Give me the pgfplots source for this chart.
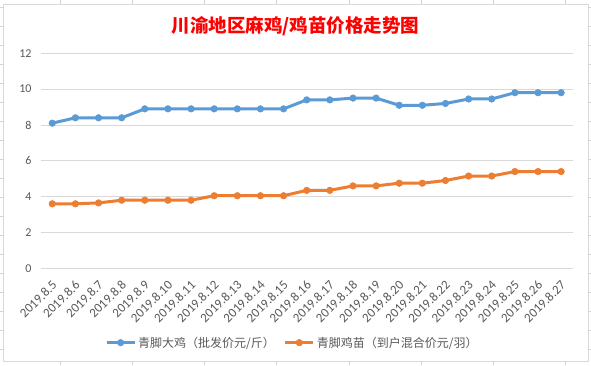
\documentclass[border=0pt]{standalone}
\usepackage{pgfplots}
\pgfplotsset{compat=1.18}
\usepackage{fontspec}
\setmainfont{Carlito}
\newfontfamily\cjk{Noto Sans CJK SC}
\definecolor{cblue}{HTML}{5B9BD5}
\definecolor{corange}{HTML}{ED7D31}
\definecolor{cgrid}{HTML}{D9D9D9}
\definecolor{cellc}{HTML}{D4D4D4}
\definecolor{ctext}{HTML}{595959}
\begin{document}
\begin{tikzpicture}
\useasboundingbox (0pt,0pt) rectangle (591pt,365pt);
\foreach \x in {60,132.3,204.5,276.7,348.9,421,493,565} {\draw[cellc, line width=0.75pt] (\x pt,0pt) -- (\x pt,365pt);}
\foreach \k in {0,...,19} {\pgfmathsetmacro\yy{365-(7+19.03*\k)}\draw[cellc, line width=0.75pt] (0pt,\yy pt) -- (591pt,\yy pt);}
\fill[white, draw=cgrid, line width=0.75pt] (3.3pt,3.3pt) rectangle (588pt,360.5pt);
\node[font=\cjk\bfseries\fontsize{18.5}{22}\selectfont, text=red] at (295.5pt,338.5pt) {川渝地区麻鸡/鸡苗价格走势图};
\begin{axis}[
  at={(40.7pt,96.7pt)}, anchor=south west, scale only axis,
  width=532pt, height=215pt,
  xmin=-0.5, xmax=22.5, ymin=0, ymax=12,
  ytick={0,2,...,12}, xtick={0,...,22},
  xticklabels={2019.8.5,2019.8.6,2019.8.7,2019.8.8,2019.8.9,2019.8.10,2019.8.11,2019.8.12,2019.8.13,2019.8.14,2019.8.15,2019.8.16,2019.8.17,2019.8.18,2019.8.19,2019.8.20,2019.8.21,2019.8.22,2019.8.23,2019.8.24,2019.8.25,2019.8.26,2019.8.27},
  axis line style={draw=none},
  major tick length=0pt,
  ymajorgrids, grid style={cgrid, line width=0.75pt},
  tick label style={text=ctext, font=\fontsize{12}{14}\selectfont},
  /pgf/number format/assume math mode=true,
  yticklabel style={inner sep=0pt, xshift=-9pt},
  xticklabel style={font=\fontsize{13}{15}\selectfont, xshift=2.3pt, yshift=-14.5pt, rotate=45, anchor=east, inner sep=0pt},
  clip=false,
  legend style={at={(0.473,-0.346)}, anchor=center, draw=none, fill=none,
    font=\cjk\fontsize{12}{14}\selectfont, text=ctext,
    /tikz/every even column/.append style={column sep=7pt}},
  legend columns=2,
  legend image code/.code={\draw[mark repeat=2,mark phase=2,#1] plot coordinates {(0pt,0pt) (14pt,0pt) (28pt,0pt)};},
]
\addplot[cblue, line width=3pt, mark=*, mark size=3.3pt, mark options={solid, line width=0.5pt, fill=cblue, draw=cblue}] coordinates {
(0,8.1) (1,8.4) (2,8.4) (3,8.4) (4,8.9) (5,8.9) (6,8.9) (7,8.9) (8,8.9) (9,8.9) (10,8.9)
(11,9.4) (12,9.4) (13,9.5) (14,9.5) (15,9.1) (16,9.1) (17,9.2) (18,9.45) (19,9.45) (20,9.8) (21,9.8) (22,9.8)};
\addlegendentry{青脚大鸡（批发价元/斤）}
\addplot[corange, line width=3pt, mark=*, mark size=3.3pt, mark options={solid, line width=0.5pt, fill=corange, draw=corange}] coordinates {
(0,3.6) (1,3.6) (2,3.65) (3,3.8) (4,3.8) (5,3.8) (6,3.8) (7,4.05) (8,4.05) (9,4.05) (10,4.05)
(11,4.35) (12,4.35) (13,4.6) (14,4.6) (15,4.75) (16,4.75) (17,4.9) (18,5.15) (19,5.15) (20,5.4) (21,5.4) (22,5.4)};
\addlegendentry{青脚鸡苗（到户混合价元/羽）}
\end{axis}
\end{tikzpicture}
\end{document}
